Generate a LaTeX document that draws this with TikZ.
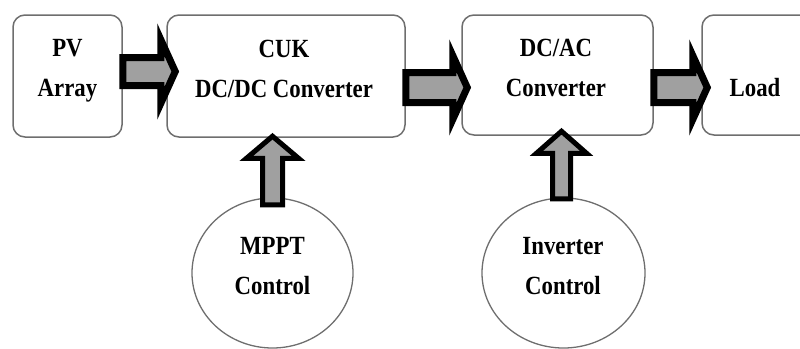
\documentclass[tikz,border=0pt]{standalone}
\usepackage{fontspec}
\setmainfont{Liberation Serif}
\usetikzlibrary{calc,shapes.geometric}
\definecolor{boxline}{RGB}{110,110,110}
\definecolor{arrfill}{RGB}{160,160,160}
\newcommand{\tl}[1]{\scalebox{1}[1.15]{#1}}
\tikzset{
 box/.style={draw=boxline, line width=1.5pt, rounded corners=12pt, rectangle, inner sep=0pt},
 ctrl/.style={draw=boxline, line width=1.3pt, ellipse, inner sep=0pt},
 lbl/.style={font=\fontsize{22.8}{40}\selectfont\bfseries, align=center, inner sep=0pt},
 hblock/.style={draw=black, fill=arrfill, line width=7pt, line join=miter},
 vblock/.style={draw=black, fill=arrfill, line width=5pt, line join=miter},
}
\newcommand{\harrow}[5]{\draw[hblock] let \p1=(#1), \p2=(#2) in (\x1,{\y1+#3pt}) -- ({\x2-#5pt},{\y1+#3pt}) -- ({\x2-#5pt},{\y1+#4pt}) -- (\x2,\y1) -- ({\x2-#5pt},{\y1-#4pt}) -- ({\x2-#5pt},{\y1-#3pt}) -- (\x1,{\y1-#3pt}) -- cycle;}
\newcommand{\varrow}[5]{\draw[vblock] let \p1=(#1), \p2=(#2) in ({\x1-#3pt},\y1) -- ({\x1-#3pt},{\y2-#5pt}) -- ({\x1-#4pt},{\y2-#5pt}) -- (\x1,\y2) -- ({\x1+#4pt},{\y2-#5pt}) -- ({\x1+#3pt},{\y2-#5pt}) -- ({\x1+#3pt},\y1) -- cycle;}
\begin{document}
\begin{tikzpicture}[x=1pt,y=-1pt]
\useasboundingbox (0,0) rectangle (800,348);
% boxes
\node[box, minimum width=109pt, minimum height=122pt] (pv) at (67.5,76) {};
\node[box, minimum width=238pt, minimum height=122pt] (cuk) at (286,76) {};
\node[box, minimum width=191pt, minimum height=120pt] (dcac) at (557.5,75) {};
\node[box, minimum width=118pt, minimum height=120pt] (load) at (761,75) {};
\node[ctrl, minimum width=161pt, minimum height=150pt] (mppt) at (272.5,273) {};
\node[ctrl, minimum width=163pt, minimum height=150pt] (inv) at (563.5,273) {};
% texts
\node[lbl] (pvt) at (67.5,70.5) {\tl{PV}\\\tl{Array}};
\node[lbl] (cukt) at (284,69) {\tl{CUK}\\\tl{DC/DC Converter}};
\node[lbl] (dcact) at (556,67.5) {\tl{DC/AC}\\\tl{Converter}};
\node[lbl] (loadt) at (755,88) {\tl{Load}};
\node[lbl] (mpptt) at (272.5,266) {\tl{MPPT}\\\tl{Control}};
\node[lbl] (invt) at (563,266) {\tl{Inverter}\\\tl{Control}};
% arrow end points
\coordinate (a1s) at ($(pv.east)+(0,-4.5)$);
\coordinate (a1e) at ($(cuk.west)+(9,-4.5)$);
\coordinate (a2s) at ($(cuk.east)+(0,11.5)$);
\coordinate (a2e) at ($(dcac.west)+(6,12.5)$);
\coordinate (a3s) at ($(dcac.east)+(0,12.5)$);
\coordinate (a3e) at ($(load.west)+(6,12.5)$);
\coordinate (v1s) at ($(mppt.north)+(0,7.5)$);
\coordinate (v1e) at ($(cuk.south)+(-13.5,-1.5)$);
\coordinate (v2s) at ($(inv.north)+(-2,1.5)$);
\coordinate (v2e) at ($(dcac.south)+(4,-4.5)$);
% block arrows
\harrow{a1s}{a1e}{14}{32}{14.5}
\harrow{a2s}{a2e}{15}{32}{14.5}
\harrow{a3s}{a3e}{15}{32}{14.5}
\varrow{v1s}{v1e}{10}{26}{22}
\varrow{v2s}{v2e}{9}{25}{22}
\end{tikzpicture}
\end{document}
